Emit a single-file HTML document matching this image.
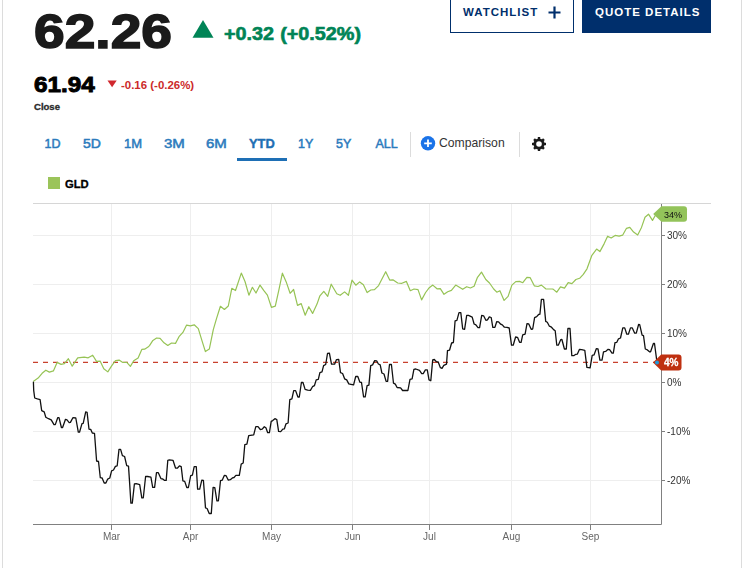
<!DOCTYPE html>
<html><head><meta charset="utf-8">
<style>
*{margin:0;padding:0;box-sizing:border-box}
html,body{width:742px;height:568px;background:#fff;overflow:hidden}
body{position:relative;font-family:"Liberation Sans",Arial,sans-serif}
.abs{position:absolute;white-space:nowrap}
.bl{position:absolute;left:2px;top:0;width:1px;height:568px;background:#dcdcdc}
.br{position:absolute;left:741px;top:0;width:1px;height:568px;background:#dcdcdc}
.price{left:33.8px;top:1px;font-size:49px;font-weight:700;color:#1b1b1b;line-height:60px;letter-spacing:0px;-webkit-text-stroke:1.6px #1b1b1b;transform:scaleX(1.125);transform-origin:0 0}
.chg{left:223.6px;top:22px;font-size:18px;font-weight:700;color:#008456;line-height:24px;-webkit-text-stroke:0.6px #008456;transform:scaleX(1.1);transform-origin:0 0;word-spacing:0.5px}
.close{left:34px;top:71px;font-size:21.5px;font-weight:700;color:#000;line-height:28px;-webkit-text-stroke:0.9px #000;transform:scaleX(1.13);transform-origin:0 0}
.dchg{left:120.5px;top:77.5px;font-size:10.5px;font-weight:700;color:#cc2a2a;line-height:14px;transform:scaleX(1.09);transform-origin:0 0}
.closelbl{left:33.5px;top:100.5px;font-size:9px;font-weight:700;color:#2a2a2a;line-height:12px;-webkit-text-stroke:0.3px #2a2a2a;transform:scaleX(1.06);transform-origin:0 0}
.wl{left:450px;top:-2px;width:124px;height:35px;border:1px solid #002f6c}
.wlt{left:463px;top:5px;font-size:11.5px;font-weight:700;color:#002f6c;letter-spacing:1px;line-height:14px}
.qd{left:582px;top:-2px;width:129px;height:35px;background:#002f6c}
.qdt{left:595px;top:5px;font-size:11.5px;font-weight:700;color:#fff;letter-spacing:1px;line-height:14px}
.tab{top:137px;font-size:12.5px;font-weight:400;color:#2b7bbd;line-height:15px;-webkit-text-stroke:0.5px #2b7bbd}
.tab.act{font-weight:700;color:#1f6fb4;-webkit-text-stroke:0.4px #1f6fb4}
.ul{left:237px;top:158px;width:50px;height:3px;background:#1e6fb5}
.sep{top:132px;width:1px;height:25px;background:#dcdcdc}
.cmp{left:439.3px;top:135px;font-size:13px;color:#333;line-height:16px;transform:scaleX(0.937);transform-origin:0 0}
.leg{left:48px;top:177px;width:12px;height:12px;background:#9bc45a}
.legt{left:65px;top:178px;font-size:10.5px;font-weight:700;color:#000;line-height:12px;-webkit-text-stroke:0.3px #000;transform:scaleX(1.07);transform-origin:0 0}
svg{position:absolute;left:0;top:0;will-change:transform}
</style></head><body>
<div class="bl"></div><div class="br"></div>
<div class="abs price">62.26</div>
<div class="abs chg">+0.32 (+0.52%)</div>
<div class="abs close">61.94</div>
<div class="abs dchg">-0.16 (-0.26%)</div>
<div class="abs closelbl">Close</div>
<div class="abs wl"></div>
<div class="abs wlt">WATCHLIST</div>
<div class="abs qd"></div>
<div class="abs qdt">QUOTE DETAILS</div>
<div class="abs tab" style="left:44.5px;letter-spacing:0px">1D</div>
<div class="abs tab" style="left:83.3px;transform:scaleX(1.12);transform-origin:0 0">5D</div>
<div class="abs tab" style="left:124.2px;transform:scaleX(1.04);transform-origin:0 0">1M</div>
<div class="abs tab" style="left:163.7px;transform:scaleX(1.2);transform-origin:0 0">3M</div>
<div class="abs tab" style="left:206px;transform:scaleX(1.2);transform-origin:0 0">6M</div>
<div class="abs tab act" style="left:248.7px;transform:scaleX(1.03);transform-origin:0 0">YTD</div>
<div class="abs tab" style="left:298px;letter-spacing:0px">1Y</div>
<div class="abs tab" style="left:336px;letter-spacing:0px">5Y</div>
<div class="abs tab" style="left:375.4px;letter-spacing:0px">ALL</div>
<div class="abs ul"></div>
<div class="abs sep" style="left:410px"></div>
<div class="abs sep" style="left:519px"></div>
<div class="abs cmp">Comparison</div>
<div class="abs leg"></div>
<div class="abs legt">GLD</div>
<svg width="742" height="568" viewBox="0 0 742 568">
 <polygon points="192.5,37.8 203,20.1 213.5,37.8" fill="#008456"/>
 <polygon points="107.5,80.5 116.7,80.5 112.1,87.3" fill="#d0282e"/>
 <!-- watchlist plus -->
 <path d="M548.5 12.5 H560.5 M554.5 6.5 V18.5" stroke="#002f6c" stroke-width="2.2" fill="none"/>
 <!-- comparison circle plus -->
 <circle cx="428" cy="143.3" r="7.2" fill="#1a73e8"/>
 <path d="M424.2 143.3 H431.8 M428 139.5 V147.1" stroke="#fff" stroke-width="1.8"/>
 <!-- gear -->
 <g transform="translate(539 144)" fill="#1a1a1a">
  <circle r="5.6"/>
  <rect x="-1.2" y="-7" width="2.4" height="14"/>
  <rect x="-1.2" y="-7" width="2.4" height="14" transform="rotate(45)"/>
  <rect x="-1.2" y="-7" width="2.4" height="14" transform="rotate(90)"/>
  <rect x="-1.2" y="-7" width="2.4" height="14" transform="rotate(135)"/>
  <circle r="2.8" fill="#fff"/>
 </g>
 <!-- grid -->
 <g stroke="#eeeeee" stroke-width="1">
  <path d="M33 235.5 H660 M33 284.5 H660 M33 333.5 H660 M33 382.5 H660 M33 431.5 H660 M33 480.5 H660"/>
  <path d="M111.5 204 V524 M190.5 204 V524 M271.5 204 V524 M352.5 204 V524 M429.5 204 V524 M511.5 204 V524 M590.5 204 V524"/>
 </g>
 <path d="M33 203.5 H711" stroke="#d6d6d6" stroke-width="1.2"/>
 <path d="M661.5 204 V524.5 M33 524.5 H661.5" stroke="#808080" stroke-width="1"/>
 <g stroke="#808080" stroke-width="1">
  <path d="M661 235.5 H665 M661 284.5 H665 M661 333.5 H665 M661 382.5 H665 M661 431.5 H665 M661 480.5 H665"/>
  <path d="M111.5 524 V530 M190.5 524 V530 M271.5 524 V530 M352.5 524 V530 M429.5 524 V530 M511.5 524 V530 M590.5 524 V530"/>
 </g>
 <g font-family="Liberation Sans, Arial, sans-serif" font-size="10" fill="#333">
  <text x="667" y="238.5">30%</text>
  <text x="667" y="287.5">20%</text>
  <text x="667" y="336.5">10%</text>
  <text x="667" y="385.5">0%</text>
  <text x="667" y="434.5">-10%</text>
  <text x="667" y="483.5">-20%</text>
 </g>
 <g font-family="Liberation Sans, Arial, sans-serif" font-size="10" fill="#666" text-anchor="middle">
  <text x="111.5" y="540">Mar</text>
  <text x="190.5" y="540">Apr</text>
  <text x="271.5" y="540">May</text>
  <text x="352.5" y="540">Jun</text>
  <text x="429.5" y="540">Jul</text>
  <text x="511.5" y="540">Aug</text>
  <text x="590.5" y="540">Sep</text>
 </g>
 <path d="M33 362.4 H655" stroke="#c8412d" stroke-width="1.2" stroke-dasharray="5 5"/>
 <path d="M33.2,381.4 L38.1,378.1 L42.1,373.3 L45.8,370.2 L49.4,372.1 L53.4,370.9 L57.1,362.4 L61.1,364.4 L64.4,363.6 L68.4,358.7 L72.2,366.2 L77.7,357.8 L84.2,357.1 L88.2,357.8 L92.7,355.2 L96.5,361.4 L100.1,361.1 L103.8,368.8 L107.8,371.9 L111.8,365.6 L115.5,360.7 L119.1,360.1 L122.8,362.5 L126.8,362.3 L130.4,366.4 L133.7,360.7 L138.1,357.9 L141.8,349.4 L144.6,349.2 L148.0,347.1 L149.5,345.6 L152.9,340.4 L156.6,338.0 L160.1,338.4 L164.0,342.8 L167.8,345.5 L171.5,343.0 L175.5,343.4 L179.0,336.7 L182.9,332.4 L186.6,325.1 L190.4,325.9 L194.2,324.8 L198.3,328.6 L201.8,340.2 L205.4,351.6 L209.3,349.1 L213.3,329.7 L216.5,318.7 L220.4,306.3 L224.4,309.5 L228.3,306.0 L231.8,288.3 L235.5,290.5 L241.3,273.1 L245.0,281.5 L248.9,295.2 L252.4,287.3 L256.0,293.0 L260.0,285.1 L263.7,290.4 L267.4,295.1 L271.4,307.3 L275.3,306.2 L279.0,289.3 L282.4,273.2 L286.2,281.9 L290.1,293.3 L293.6,289.5 L297.5,305.4 L301.2,303.6 L305.2,315.2 L308.8,306.7 L312.6,313.4 L317.0,304.1 L319.9,295.8 L323.8,291.4 L327.7,296.3 L331.2,284.2 L336.8,293.7 L340.2,295.3 L344.6,291.9 L348.4,295.3 L352.0,280.2 L355.8,285.2 L359.7,281.9 L363.4,284.7 L367.1,292.6 L370.8,290.0 L374.5,289.7 L378.6,285.6 L385.7,271.7 L389.7,280.1 L392.9,279.8 L397.7,283.0 L401.9,283.3 L406.4,281.4 L410.3,290.7 L414.0,289.0 L418.0,289.6 L421.6,299.9 L425.6,292.5 L429.3,287.7 L432.8,285.1 L437.0,288.8 L440.3,288.6 L444.0,294.3 L447.7,291.8 L451.4,290.4 L455.7,285.1 L459.4,287.2 L462.7,289.3 L466.7,286.7 L470.4,288.0 L474.1,286.2 L477.3,277.7 L481.5,272.1 L485.8,279.5 L489.5,283.0 L493.7,289.0 L496.8,292.2 L499.9,290.7 L504.1,300.4 L508.1,296.4 L511.9,285.1 L515.8,281.6 L519.5,281.4 L522.8,282.7 L526.9,277.4 L530.2,277.7 L534.3,285.8 L538.0,286.5 L541.4,285.1 L545.7,288.8 L552.0,289.0 L553.1,289.1 L556.8,292.2 L560.5,286.9 L564.5,288.1 L568.2,282.7 L571.9,283.6 L575.9,279.5 L579.6,278.3 L583.3,274.4 L587.0,268.8 L591.9,255.3 L596.6,249.1 L599.9,251.6 L604.2,243.6 L607.6,236.2 L611.2,238.0 L615.1,235.4 L619.1,236.2 L622.6,235.2 L626.5,228.3 L629.8,227.4 L633.6,232.1 L637.7,235.0 L641.5,227.4 L645.0,217.2 L648.5,214.2 L652.5,220.4 L655.6,215.0" stroke="#96c355" stroke-width="1.2" fill="none" stroke-linejoin="round"/>
 <path d="M33.4,381.7 L33.7,390.3 L34.7,398.0 L37.4,398.9 L40.1,399.6 L41.7,410.6 L44.2,411.9 L45.8,417.2 L48.5,418.7 L51.2,419.9 L54.0,424.6 L55.3,424.6 L57.7,417.7 L59.0,417.7 L61.4,427.5 L62.6,427.5 L65.5,419.3 L67.0,419.9 L69.2,422.6 L70.4,422.4 L72.9,417.7 L75.8,418.0 L78.3,432.2 L79.5,432.2 L82.0,423.6 L83.2,423.3 L85.7,411.9 L87.1,412.4 L89.0,429.1 L90.8,429.5 L92.3,433.0 L94.5,433.3 L96.6,461.0 L98.5,461.5 L100.3,477.7 L102.1,478.0 L104.2,483.0 L105.9,483.0 L107.7,479.1 L109.8,478.0 L111.6,470.8 L113.5,470.0 L115.4,466.4 L117.2,465.8 L119.0,449.4 L120.6,449.4 L122.4,455.6 L124.6,456.5 L126.7,465.6 L128.5,466.1 L129.8,485.6 L130.9,503.1 L132.3,503.1 L134.4,484.0 L136.2,483.7 L139.7,484.6 L141.8,497.8 L143.3,497.8 L145.6,476.5 L147.7,476.5 L150.9,477.2 L152.7,487.3 L154.6,487.3 L156.5,472.7 L158.3,472.7 L160.9,478.6 L162.8,479.0 L164.6,480.4 L166.2,480.4 L167.8,460.3 L169.4,459.8 L173.0,460.3 L175.5,468.0 L177.3,468.2 L179.4,465.9 L181.2,466.7 L182.9,480.9 L184.7,481.4 L186.8,487.5 L188.4,487.5 L190.7,475.6 L192.4,475.1 L194.2,466.7 L196.3,466.7 L197.6,489.2 L199.7,489.2 L201.8,480.2 L203.4,480.4 L205.5,507.9 L207.1,508.5 L209.2,513.5 L211.3,513.5 L213.1,487.4 L214.8,487.6 L216.9,500.8 L218.4,500.8 L220.5,480.7 L222.2,480.2 L224.3,475.4 L226.1,475.7 L228.2,480.0 L230.3,479.7 L232.4,477.9 L234.0,477.5 L235.9,475.4 L239.3,475.4 L241.2,464.1 L243.2,463.0 L244.8,444.6 L246.9,444.1 L248.7,435.6 L253.7,434.8 L255.8,426.7 L258.0,426.7 L260.3,429.5 L262.2,429.1 L264.3,426.7 L265.9,427.7 L267.7,432.7 L269.4,432.7 L271.2,421.4 L272.7,420.6 L274.9,418.7 L276.8,419.6 L278.6,431.4 L280.7,431.6 L282.8,429.1 L284.4,428.8 L286.0,423.8 L288.1,423.0 L289.8,399.7 L291.9,398.9 L293.7,390.6 L295.6,390.6 L297.9,397.0 L299.3,397.0 L301.4,382.5 L303.0,382.5 L305.1,389.4 L307.7,390.2 L310.4,390.4 L312.5,386.7 L314.4,385.7 L316.2,379.9 L318.3,379.3 L319.9,372.7 L322.0,371.9 L323.6,365.6 L325.7,364.5 L327.5,353.5 L329.4,353.2 L331.5,364.2 L334.6,364.2 L336.5,359.6 L338.7,359.3 L340.5,372.7 L342.6,373.5 L344.6,378.8 L346.7,379.9 L348.8,383.9 L350.9,384.3 L353.6,384.9 L355.7,376.5 L357.8,376.5 L359.9,382.2 L361.5,382.5 L363.6,396.8 L365.2,396.8 L367.1,385.7 L368.9,385.1 L370.7,365.6 L372.6,364.9 L374.7,360.6 L376.6,360.8 L378.4,364.0 L380.2,364.9 L381.9,373.0 L384.0,374.0 L386.1,381.4 L387.6,381.4 L389.5,364.5 L391.4,364.5 L393.5,383.2 L395.3,384.1 L397.1,387.5 L400.6,387.8 L402.6,390.5 L407.9,390.5 L410.0,379.3 L412.1,378.9 L413.9,369.4 L415.8,369.0 L419.5,370.4 L421.7,373.6 L423.2,373.6 L425.4,369.8 L427.3,369.8 L429.0,379.9 L430.8,380.7 L432.7,359.9 L434.3,359.5 L436.4,361.7 L438.2,362.0 L440.4,367.7 L442.0,368.3 L443.8,365.4 L446.5,364.1 L447.5,350.6 L449.6,350.0 L451.6,343.0 L453.4,342.5 L455.1,320.8 L456.9,320.3 L459.0,312.6 L460.8,312.6 L462.7,328.8 L464.6,329.3 L466.7,315.4 L468.5,315.4 L472.2,317.1 L474.1,324.0 L475.9,324.9 L478.0,327.7 L479.6,327.7 L481.7,315.4 L483.6,315.8 L485.9,320.3 L487.5,319.8 L489.3,316.8 L491.2,317.5 L492.8,327.4 L494.9,327.4 L496.7,321.7 L498.6,321.9 L500.7,324.2 L502.3,324.9 L504.4,327.2 L507.0,327.4 L509.2,328.0 L511.5,345.2 L513.2,345.2 L515.6,337.0 L517.5,337.3 L519.6,342.3 L521.1,342.3 L522.7,334.9 L525.1,334.1 L527.0,323.7 L528.8,324.0 L531.2,329.3 L532.7,329.0 L534.6,317.7 L536.7,316.7 L538.6,314.5 L539.9,314.2 L541.4,299.4 L543.6,299.4 L545.7,321.4 L547.3,322.3 L549.4,326.2 L551.5,327.2 L553.6,329.6 L555.2,330.7 L556.8,345.2 L558.3,345.2 L560.8,339.6 L561.9,339.5 L564.4,349.0 L566.3,349.0 L567.9,328.5 L570.0,328.5 L571.8,355.7 L573.7,355.7 L575.8,354.3 L577.4,354.1 L579.5,349.3 L581.7,349.6 L584.8,350.4 L586.9,367.3 L590.1,367.8 L592.2,355.4 L594.0,354.9 L596.4,348.6 L598.0,348.8 L599.9,360.2 L602.0,360.2 L603.5,351.8 L605.6,351.4 L608.1,349.3 L609.6,349.6 L612.0,353.2 L613.3,353.2 L615.0,342.7 L616.8,342.3 L618.5,338.8 L620.5,338.0 L622.8,327.9 L624.7,327.9 L626.8,334.2 L628.4,334.2 L630.5,327.9 L632.3,327.9 L634.7,333.2 L636.3,333.2 L638.6,324.5 L639.7,324.7 L642.1,335.1 L643.5,335.6 L645.3,349.0 L647.4,349.9 L649.5,351.8 L650.6,351.8 L653.4,343.5 L654.5,343.5 L657.0,362.4" stroke="#111" stroke-width="1.3" fill="none" stroke-linejoin="round"/>
 <!-- labels -->
 <path d="M653.2 214 L661.4 206.2 H684 Q687 206.2 687 209.2 V218.7 Q687 221.7 684 221.7 H661.4 Z" fill="#93c35a"/>
 <text x="664" y="217.5" font-family="Liberation Sans, Arial, sans-serif" font-size="9" fill="#111">34%</text>
 <path d="M653 362.4 L661.2 354.4 H678.5 Q681.5 354.4 681.5 357.4 V367.6 Q681.5 370.6 678.5 370.6 H661.2 Z" fill="#bf3010"/>
 <text x="664" y="365.8" font-family="Liberation Sans, Arial, sans-serif" font-size="10" font-weight="700" fill="#fff" stroke="#fff" stroke-width="0.3">4%</text>
 <circle cx="657" cy="362.4" r="2" fill="#1d9be0"/>
</svg>
</body></html>
